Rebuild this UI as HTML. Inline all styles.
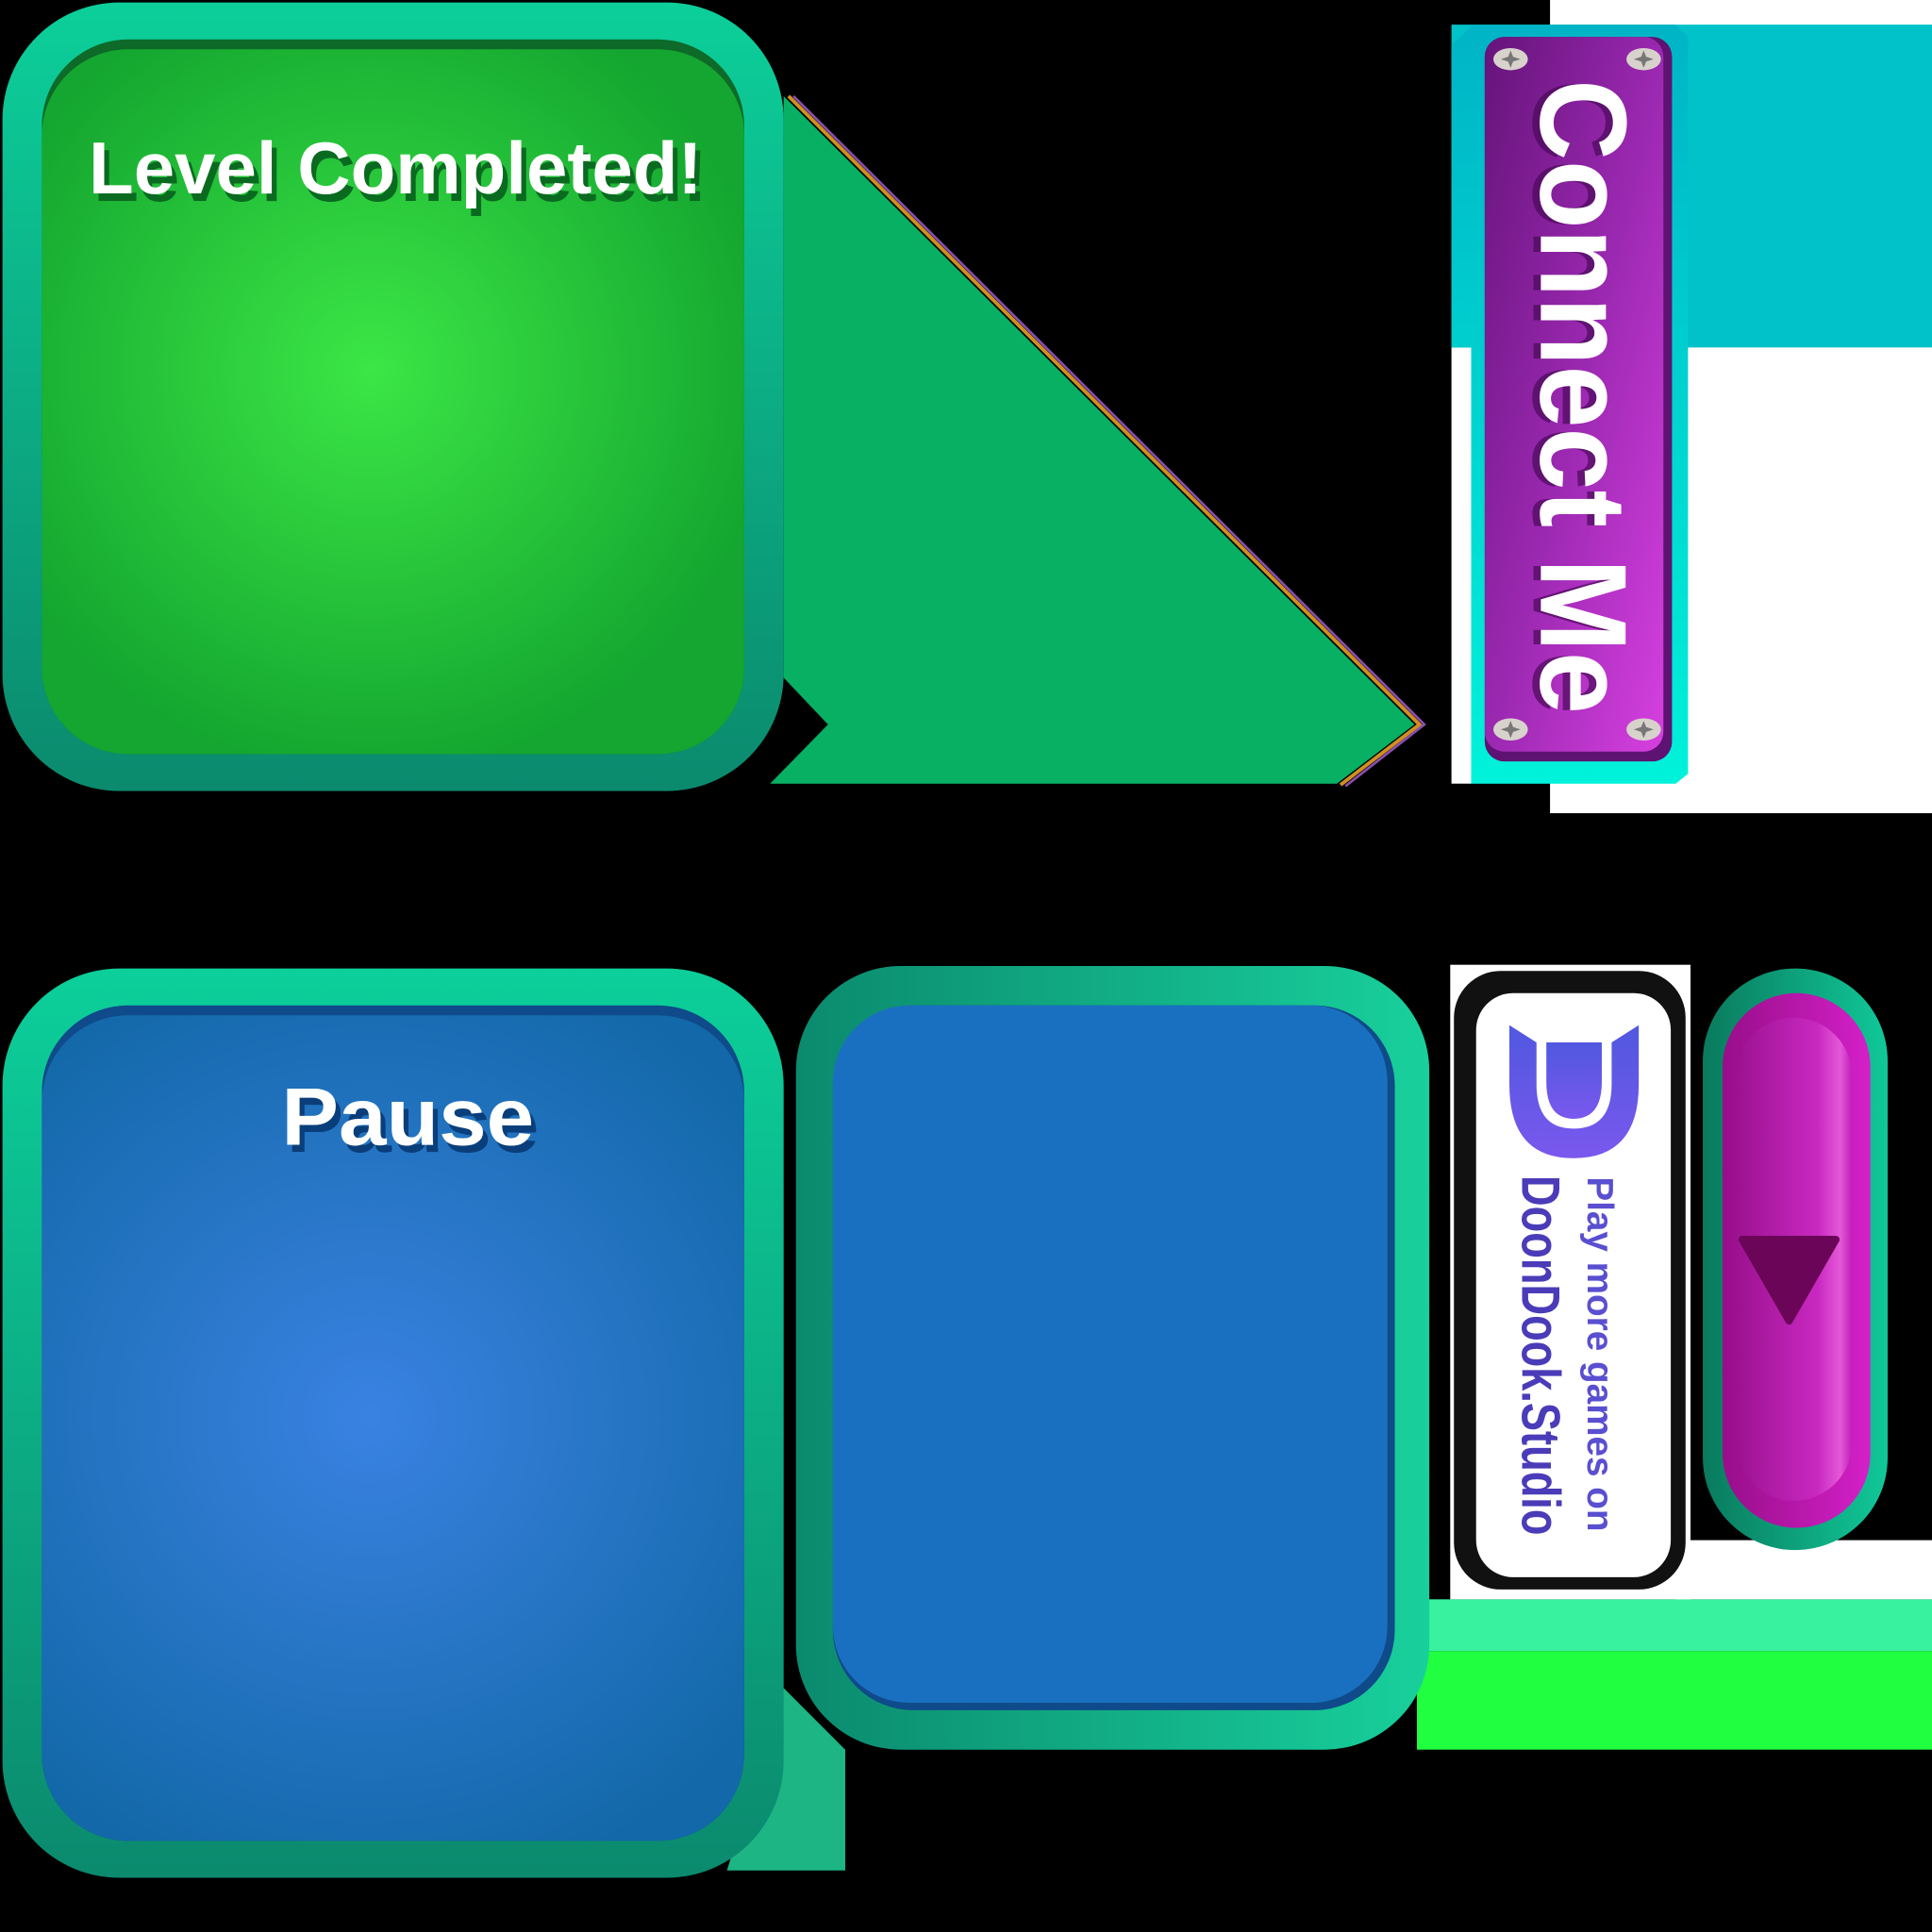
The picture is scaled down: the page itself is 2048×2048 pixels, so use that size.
<!DOCTYPE html>
<html><head><meta charset="utf-8"><style>
html,body{margin:0;padding:0;background:#000;}
svg{display:block;}
text{font-family:"Liberation Sans",Arial,sans-serif;}
</style></head><body>
<svg width="2048" height="2048" viewBox="0 0 1568 1568" xmlns="http://www.w3.org/2000/svg">
<defs>
<linearGradient id="tealV" x1="0" y1="0" x2="0" y2="1"><stop offset="0" stop-color="#0ccf9a"/><stop offset="1" stop-color="#0b8a6e"/></linearGradient>
<linearGradient id="tealH" x1="0" y1="0" x2="1" y2="0"><stop offset="0" stop-color="#0b8a6e"/><stop offset="1" stop-color="#18d09c"/></linearGradient>
<radialGradient id="greenR" cx="300" cy="300" r="330" gradientUnits="userSpaceOnUse"><stop offset="0" stop-color="#3ce646"/><stop offset="1" stop-color="#14a630"/></radialGradient>
<radialGradient id="blueR" cx="300" cy="1150" r="400" gradientUnits="userSpaceOnUse"><stop offset="0" stop-color="#3a82e2"/><stop offset="1" stop-color="#1268a8"/></radialGradient>
<linearGradient id="cyanV" x1="0" y1="0" x2="0" y2="1"><stop offset="0" stop-color="#00b4c6"/><stop offset="1" stop-color="#00f2da"/></linearGradient>
<linearGradient id="purp" x1="0" y1="0" x2="1" y2="1"><stop offset="0" stop-color="#65147a"/><stop offset="0.5" stop-color="#9a28b0"/><stop offset="1" stop-color="#d640e0"/></linearGradient>
<linearGradient id="pillT" x1="0" y1="0" x2="1" y2="0"><stop offset="0" stop-color="#0a7a5e"/><stop offset="1" stop-color="#10c898"/></linearGradient>
<linearGradient id="mag" x1="0" y1="0" x2="1" y2="0"><stop offset="0" stop-color="#980e8a"/><stop offset="1" stop-color="#d420c8"/></linearGradient>
<linearGradient id="mag2" x1="0" y1="0" x2="1" y2="0"><stop offset="0" stop-color="#9c1290"/><stop offset="0.7" stop-color="#c828c0"/><stop offset="0.9" stop-color="#e458d8"/><stop offset="1" stop-color="#c020b8"/></linearGradient>
<linearGradient id="logo" x1="0" y1="0" x2="0" y2="1"><stop offset="0" stop-color="#5058e0"/><stop offset="1" stop-color="#7a58ee"/></linearGradient>
</defs>

<!-- green triangle -->
<polygon points="636,78 1148,588 1085,636 625,636 672,588 636,550" fill="#07b062"/>
<polyline points="640,78 1152,588 1088,637" fill="none" stroke="#d09020" stroke-width="3"/>
<polyline points="644,78 1156,588 1092,638" fill="none" stroke="#8a50b0" stroke-width="2"/>

<!-- green panel -->
<rect x="2" y="2" width="634" height="640" rx="95" fill="url(#tealV)"/>
<rect x="34" y="32" width="570" height="580" rx="70" fill="#0d6a28"/>
<rect x="34" y="40" width="570" height="572" rx="70" fill="url(#greenR)"/>
<text x="325" y="163" text-anchor="middle" font-size="60" font-weight="bold" fill="#0a6a20" textLength="498" lengthAdjust="spacingAndGlyphs">Level Completed!</text>
<text x="321" y="157" text-anchor="middle" font-size="60" font-weight="bold" fill="#fff" textLength="498" lengthAdjust="spacingAndGlyphs">Level Completed!</text>

<!-- top right -->
<rect x="1258" y="0" width="310" height="660" fill="#fff"/>
<rect x="1178" y="20" width="390" height="262" fill="#00c2c8"/>
<rect x="1178" y="282" width="16" height="354" fill="#fff"/>
<path d="M1178,36 L1196,20 L1360,20 L1370,30 L1370,628 L1360,636 L1194,636 L1194,282 L1178,282 Z" fill="url(#cyanV)"/>
<rect x="1205" y="30" width="152" height="588" rx="16" fill="#5e1272"/>
<rect x="1205" y="30" width="145" height="580" rx="16" fill="url(#purp)"/>
<g transform="translate(1283,322) rotate(90)">
<text x="0" y="4" text-anchor="middle" dominant-baseline="central" font-size="100" font-weight="bold" fill="#4a0a5a" opacity="0.7" textLength="515" lengthAdjust="spacingAndGlyphs">Connect Me</text>
<text x="0" y="-2" text-anchor="middle" dominant-baseline="central" font-size="100" font-weight="bold" fill="#fff" textLength="515" lengthAdjust="spacingAndGlyphs">Connect Me</text>
</g>
<g fill="#d8d2cc">
<ellipse cx="1226" cy="48" rx="14" ry="9"/><ellipse cx="1334" cy="48" rx="14" ry="9"/>
<ellipse cx="1226" cy="592" rx="14" ry="9"/><ellipse cx="1334" cy="592" rx="14" ry="9"/>
</g>
<g fill="#777">
<path d="M1226,41 L1228,46 L1234,48 L1228,50 L1226,55 L1224,50 L1218,48 L1224,46 Z"/>
<path d="M1334,41 L1336,46 L1342,48 L1336,50 L1334,55 L1332,50 L1326,48 L1332,46 Z"/>
<path d="M1226,585 L1228,590 L1234,592 L1228,594 L1226,599 L1224,594 L1218,592 L1224,590 Z"/>
<path d="M1334,585 L1336,590 L1342,592 L1336,594 L1334,599 L1332,594 L1326,592 L1332,590 Z"/>
</g>

<!-- bottom left teal triangle -->
<polygon points="636,1370 686,1420 686,1518 590,1518" fill="#1db584"/>
<!-- blue pause panel -->
<rect x="2" y="786" width="634" height="738" rx="95" fill="url(#tealV)"/>
<rect x="34" y="816" width="570" height="678" rx="70" fill="#0f4a8a"/>
<rect x="34" y="824" width="570" height="670" rx="70" fill="url(#blueR)"/>
<text x="335" y="935" text-anchor="middle" font-size="66" font-weight="bold" fill="#0a3e7a" textLength="205" lengthAdjust="spacingAndGlyphs">Pause</text>
<text x="331" y="929" text-anchor="middle" font-size="66" font-weight="bold" fill="#fff" textLength="205" lengthAdjust="spacingAndGlyphs">Pause</text>

<!-- light green bands -->
<rect x="1150" y="1298" width="418" height="42" fill="#38f2a0"/>
<rect x="1150" y="1340" width="418" height="80" fill="#20ff40"/>
<rect x="1360" y="1250" width="208" height="48" fill="#fff"/>

<!-- second blue panel -->
<rect x="646" y="784" width="514" height="636" rx="85" fill="url(#tealH)"/>
<rect x="676" y="816" width="456" height="572" rx="65" fill="#0f4a8a"/>
<rect x="676" y="816" width="450" height="566" rx="62" fill="#1a70c0"/>

<!-- doondook card -->
<rect x="1177" y="783" width="195" height="515" fill="#fff"/>
<rect x="1180" y="788" width="188" height="502" rx="38" fill="#111"/>
<rect x="1198" y="806" width="158" height="474" rx="30" fill="#fff"/>
<path d="M1225,832 L1247,846 L1247,880 Q1247,916 1277,916 Q1308,916 1308,880 L1308,846 L1330,832 L1330,880 Q1330,940 1277,940 Q1225,940 1225,880 Z" fill="url(#logo)"/>
<path d="M1255,846 L1300,846 L1300,878 Q1300,908 1277,908 Q1255,908 1255,878 Z" fill="url(#logo)"/>
<g transform="translate(1298,1099) rotate(90)">
<text x="0" y="0" text-anchor="middle" dominant-baseline="central" font-size="30" font-weight="bold" fill="#5a4fd0" style="font-family:'Liberation Sans Narrow','Liberation Sans',sans-serif" textLength="288" lengthAdjust="spacingAndGlyphs">Play more games on</text>
</g>
<g transform="translate(1250,1100) rotate(90)">
<text x="0" y="0" text-anchor="middle" dominant-baseline="central" font-size="44" font-weight="bold" fill="#4a3cb8" style="font-family:'Liberation Sans Narrow','Liberation Sans',sans-serif" textLength="292" lengthAdjust="spacingAndGlyphs">DoonDook.Studio</text>
</g>

<!-- purple pill button -->
<rect x="1382" y="786" width="150" height="472" rx="75" fill="url(#pillT)"/>
<rect x="1398" y="806" width="120" height="434" rx="60" fill="url(#mag)"/>
<rect x="1409" y="826" width="94" height="392" rx="47" fill="url(#mag2)"/>
<polygon points="1414,1006 1490,1006 1452,1072" fill="#6b0558" stroke="#6b0558" stroke-width="6" stroke-linejoin="round"/>
</svg>
</body></html>
